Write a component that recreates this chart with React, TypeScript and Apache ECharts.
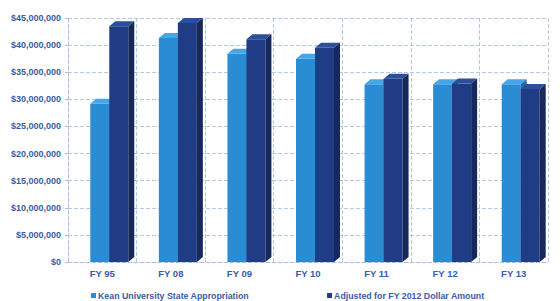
import React, { useEffect, useRef } from "react";
import * as echarts from "echarts";

const categories = ["FY 95", "FY 08", "FY 09", "FY 10", "FY 11", "FY 12", "FY 13"];
const stateAppropriation = [29200000, 41300000, 38400000, 37500000, 32800000, 32800000, 32800000];
const adjusted2012 = [43500000, 44100000, 41100000, 39500000, 33800000, 32900000, 31900000];
const seriesNames = ["Kean University State Appropriation", "Adjusted for FY 2012 Dollar Amount"];
const yTicks = [0, 5000000, 10000000, 15000000, 20000000, 25000000, 30000000, 35000000, 40000000, 45000000];

const FONT = "'Liberation Sans', Arial, sans-serif";
const LABEL_COLOR = "#3a5ca6";

const palettes = [
  { front: "#2a8dd4", top: "#47a6e6", side: "#1d6aa8" },
  { front: "#1f3c84", top: "#2c4f9c", side: "#16295a" },
];

function make3D(seriesIndex: number) {
  return (params: any, api: any) => {
    const cat = api.value(0);
    const val = api.value(1);
    const top = api.coord([cat, val]);
    const base = api.coord([cat, 0]);
    const w = 19;
    const off = seriesIndex === 0 ? -12 : 7;
    const dx = 6;
    const dy = 5;
    const x0 = top[0] + off;
    const x1 = x0 + w;
    const yT = top[1];
    const yB = base[1];
    const p = palettes[seriesIndex];
    return {
      type: "group",
      children: [
        {
          type: "rect",
          shape: { x: x0, y: yT, width: w, height: yB - yT },
          style: { fill: p.front },
        },
        {
          type: "polygon",
          shape: { points: [[x0, yT], [x0 + dx, yT - dy], [x1 + dx, yT - dy], [x1, yT]] },
          style: { fill: p.top },
        },
        {
          type: "polygon",
          shape: { points: [[x1, yT], [x1 + dx, yT - dy], [x1 + dx, yB - dy], [x1, yB]] },
          style: { fill: p.side },
        },
      ],
    };
  };
}

export default function App() {
  const ref = useRef<HTMLDivElement>(null);
  useEffect(() => {
    if (!ref.current) return;
    const chart = echarts.init(ref.current, null, { renderer: "svg" });
    const fmt = (v: number) => "$" + v.toLocaleString("en-US");
    chart.setOption({
      animation: false,
      backgroundColor: "#ffffff",
      grid: { left: 68, right: 12, top: 18, bottom: 39 },
      xAxis: {
        type: "category",
        data: categories,
        axisLine: { show: true, lineStyle: { color: "#a9c1dc", type: "dashed" } },
        axisTick: { show: false },
        splitLine: { show: true, lineStyle: { color: "#b4cae2", type: "dashed" } },
        axisLabel: {
          color: LABEL_COLOR,
          fontFamily: FONT,
          fontWeight: "bold",
          fontSize: 9.5,
          margin: 6,
        },
      },
      yAxis: {
        type: "value",
        min: 0,
        max: 45000000,
        interval: 5000000,
        axisLine: { show: true, lineStyle: { color: "#a9c1dc", type: "dashed" } },
        axisTick: { show: true, length: 3, lineStyle: { color: "#a9c1dc" } },
        splitLine: { show: true, lineStyle: { color: "#b4cae2", type: "dashed" } },
        axisLabel: {
          color: LABEL_COLOR,
          fontFamily: FONT,
          fontWeight: "bold",
          fontSize: 9,
          margin: 7,
          formatter: (v: number) => (yTicks.includes(v) ? fmt(v) : ""),
        },
      },
      legend: {
        left: 86,
        top: 286,
        itemWidth: 5,
        itemHeight: 5,
        itemGap: 78,
        icon: "rect",
        textStyle: {
          color: LABEL_COLOR,
          fontFamily: FONT,
          fontWeight: "bold",
          fontSize: 8.8,
          padding: [0, 0, 0, -3],
        },
        data: seriesNames,
      },
      series: [
        {
          name: seriesNames[0],
          type: "custom",
          renderItem: make3D(0),
          itemStyle: { color: palettes[0].front },
          encode: { x: 0, y: 1 },
          data: stateAppropriation.map((v, i) => [i, v]),
          z: 2,
        },
        {
          name: seriesNames[1],
          type: "custom",
          renderItem: make3D(1),
          itemStyle: { color: palettes[1].front },
          encode: { x: 0, y: 1 },
          data: adjusted2012.map((v, i) => [i, v]),
          z: 3,
        },
      ],
    });
    return () => chart.dispose();
  }, []);
  return <div ref={ref} style={{ width: 560, height: 301, position: "absolute", left: 0, top: 0 }} />;
}
